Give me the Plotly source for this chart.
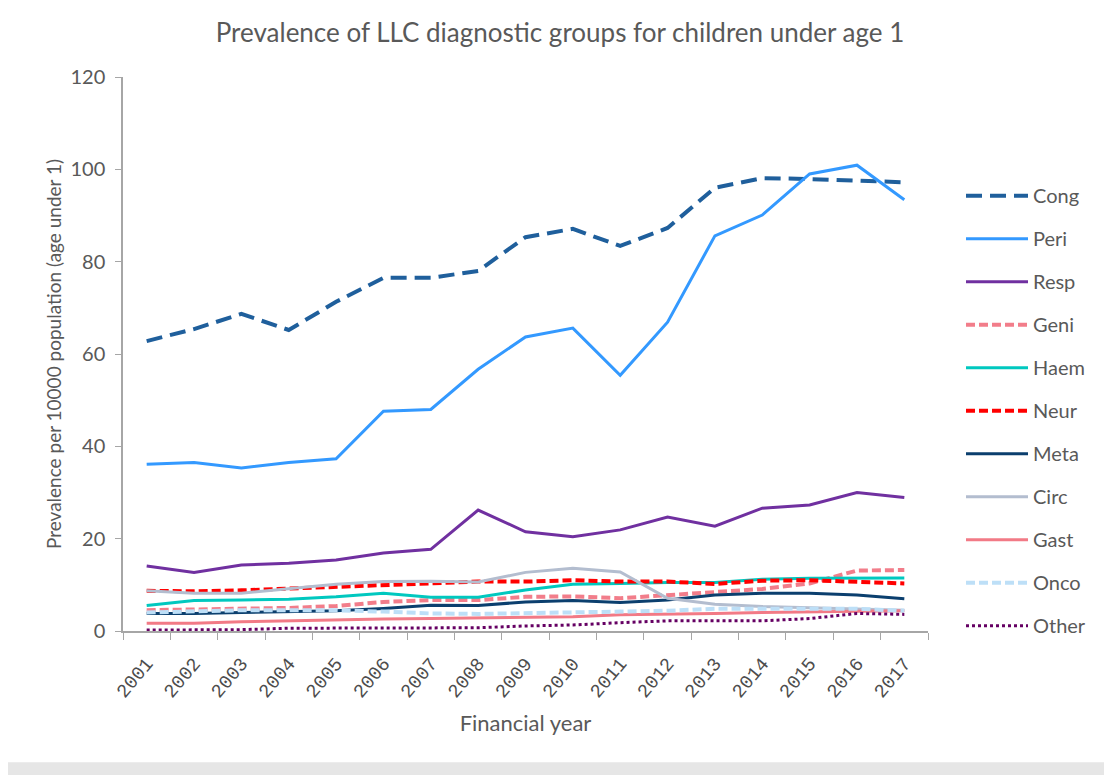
import plotly.graph_objects as go

years = [str(y) for y in range(2001, 2018)]

cong = [62.8, 65.4, 68.7, 65.2, 71.3, 76.5, 76.5, 78.0, 85.3, 87.1, 83.4, 87.3, 96.0, 98.1, 97.9, 97.5, 97.2]
peri = [36.1, 36.5, 35.3, 36.5, 37.3, 47.6, 48.0, 56.7, 63.7, 65.6, 55.4, 66.9, 85.6, 90.1, 99.0, 100.9, 93.4]
resp = [14.1, 12.7, 14.3, 14.7, 15.4, 16.9, 17.7, 26.2, 21.5, 20.4, 21.9, 24.7, 22.7, 26.6, 27.3, 30.0, 28.9]
geni = [4.5, 4.6, 4.9, 5.0, 5.4, 6.3, 6.7, 6.7, 7.4, 7.5, 7.1, 7.8, 8.5, 9.1, 10.3, 13.1, 13.2]
haem = [5.5, 6.6, 6.7, 6.9, 7.4, 8.2, 7.3, 7.3, 8.9, 10.1, 10.3, 10.5, 10.5, 11.2, 11.4, 11.5, 11.5]
neur = [8.7, 8.6, 8.8, 9.2, 9.6, 10.0, 10.5, 10.7, 10.7, 11.0, 10.7, 10.7, 10.2, 10.9, 11.0, 10.7, 10.3]
meta = [3.8, 3.8, 4.0, 4.2, 4.4, 4.9, 5.6, 5.5, 6.3, 6.6, 6.2, 6.7, 7.8, 8.2, 8.2, 7.8, 7.0]
circ = [8.7, 8.2, 8.2, 9.2, 10.1, 10.7, 10.8, 10.6, 12.7, 13.6, 12.8, 7.1, 5.8, 5.3, 5.0, 4.7, 4.5]
gast = [1.7, 1.7, 2.0, 2.2, 2.5, 2.6, 2.7, 2.8, 3.0, 3.1, 3.5, 3.6, 3.8, 4.0, 4.2, 4.3, 4.4]
onco = [4.0, 4.3, 4.5, 4.5, 4.5, 4.2, 3.8, 3.7, 3.8, 4.0, 4.2, 4.4, 4.8, 4.8, 4.8, 4.8, 4.4]
other = [0.2, 0.2, 0.3, 0.6, 0.6, 0.6, 0.6, 0.7, 1.1, 1.3, 1.8, 2.2, 2.2, 2.2, 2.7, 3.8, 3.6]

series = [
    ("Cong", cong, "#1f5f9c", "16px,8px", 4),
    ("Peri", peri, "#3399ff", "solid", 3),
    ("Resp", resp, "#7030a0", "solid", 3),
    ("Geni", geni, "#f27d8a", "9px,4px", 4),
    ("Haem", haem, "#00c8bf", "solid", 3),
    ("Neur", neur, "#ff0000", "9px,4px", 4),
    ("Meta", meta, "#0b3f6e", "solid", 3),
    ("Circ", circ, "#b3bdcf", "solid", 3),
    ("Gast", gast, "#f27a86", "solid", 3),
    ("Onco", onco, "#bddff7", "9px,4px", 4),
    ("Other", other, "#650063", "dot", 3),
]

fig = go.Figure()
for name, vals, col, dash, w in series:
    fig.add_trace(go.Scatter(x=years, y=vals, name=name, mode="lines",
                             legendgroup=name,
                             line=dict(color=col, dash=dash, width=w)))

grey = "#595959"
# the page body has an 8px margin, so the figure is 8px smaller and margins shifted
fig.update_layout(
    width=1104, height=767,
    paper_bgcolor="white", plot_bgcolor="white",
    margin=dict(l=115, r=184, t=69, b=144, autoexpand=False),
    font=dict(family="Lato, Open Sans, sans-serif", color=grey, size=20),
    title=dict(text="Prevalence of LLC diagnostic groups for children under age 1",
               x=0.5, xanchor="center", y=0.967, yanchor="middle",
               font=dict(size=26, color=grey)),
    legend=dict(x=1.041, y=0.821, xanchor="left", yanchor="top",
                itemwidth=62, tracegroupgap=14, font=dict(size=20, color=grey)),
    xaxis=dict(type="category", range=[-0.5, len(years) - 0.5],
               showgrid=False, showline=True, linecolor="#a6a6a6",
               linewidth=1.5, ticks="outside", tickson="boundaries", ticklen=7,
               tickcolor="#a6a6a6", tickangle=-50,
               tickfont=dict(size=19, family="Liberation Mono, Courier New, monospace",
                             color="#4d4d4d"),
               ticklabelstandoff=12, automargin=False,
               title=dict(text="Financial year", font=dict(size=22), standoff=14)),
    yaxis=dict(range=[0, 120], dtick=20, showgrid=False, showline=True,
               linecolor="#a6a6a6", linewidth=1.5, ticks="outside", ticklen=6,
               tickcolor="#a6a6a6", tickfont=dict(size=20), zeroline=False,
               ticklabelstandoff=6, automargin=False,
               title=dict(text="Prevalence per 10000 population (age under 1)",
                          font=dict(size=19), standoff=4)),
    showlegend=True,
)
fig.add_shape(type="rect", xref="paper", yref="paper", x0=-0.2, x1=1.25,
              y0=-0.28, y1=-0.237, fillcolor="#e6e6e6", line_width=0, layer="below")

fig.write_html("out.html")
